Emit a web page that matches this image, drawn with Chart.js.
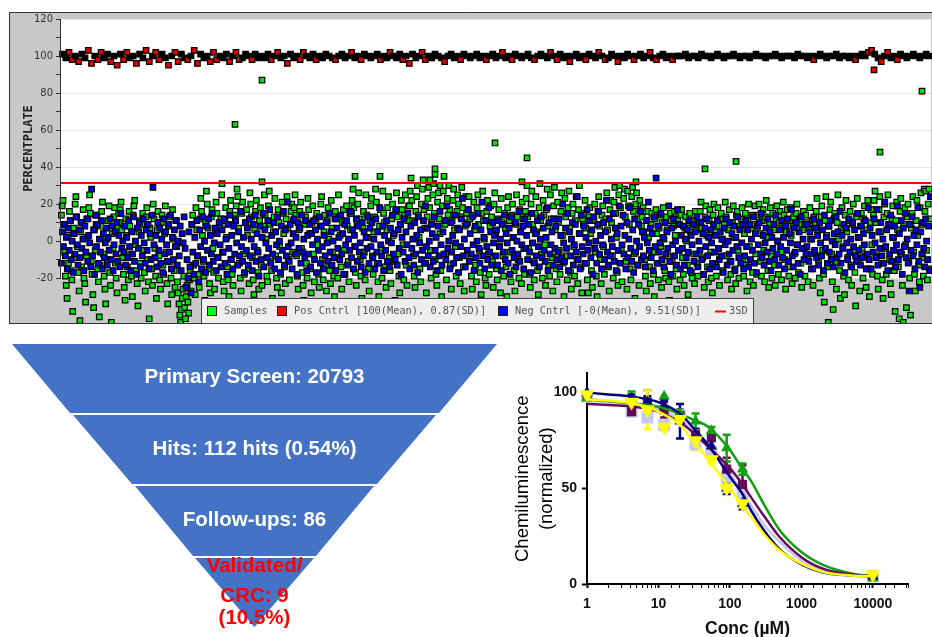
<!DOCTYPE html>
<html>
<head>
<meta charset="utf-8">
<title>HTS funnel</title>
<script src="https://cdn.jsdelivr.net/npm/chart.js@4/dist/chart.umd.min.js"></script>
<style>
  body { margin: 0; background: #fff; }
  canvas { position: absolute; }
  #plateChart { left: 9px; top: 12px; }
  #funnelChart { left: 0; top: 340px; }
  #doseChart { left: 500px; top: 360px; }
</style>
</head>
<body>
<canvas id="plateChart" width="923" height="312"></canvas>
<canvas id="funnelChart" width="500" height="297"></canvas>
<canvas id="doseChart" width="432" height="277"></canvas>
<script>
const TOTAL_WELLS = 20793
const sampleValues = [
14,19,22,9,-6,-19,-24,-31,3,-12,16,11,-16,-21,-38,7,-9,20,24,13,-3,-17,-27,-43,5,-14,10,17,-20,-23,-33,-8,
2,12,18,25,15,-11,-18,-29,-36,6,-5,9,14,-15,-22,-41,-13,8,16,21,-7,-19,-26,-34,1,-10,11,19,-17,-24,-44,4,-4,13,18,-12,-20,-28,7,15,
10,17,21,6,-9,-18,-25,-32,12,3,-14,-21,16,8,-7,-19,-30,14,19,22,-2,-16,-23,-35,5,11,-12,-20,9,15,-5,-17,
-27,13,18,-10,-22,-42,7,2,-15,-24,20,12,-4,-19,-31,6,16,-8,-21,-26,10,14,-13,-18,4,19,-6,-23,-34,8,13,-11,-20,-29,17,1,-16,-25,11,-3,
-22,-28,-34,-40,-44,-37,-31,-26,-19,-36,-42,-30,-24,-33,-39,-21,-16,-27,9,14,-13,-20,-29,18,6,-8,-18,-25,12,23,16,3,
-11,-19,-32,10,27,20,7,-15,-23,-28,13,17,-4,-17,-26,5,21,15,-9,-20,-35,8,12,25,-6,-22,-27,11,18,2,-14,-21,-30,16,22,-10,-18,-24,9,14,
12,19,28,24,7,-12,-20,-27,15,21,-7,-18,-33,10,17,3,-15,-23,26,20,13,-9,-21,-29,6,16,22,-5,-17,-26,11,18,
-13,-24,-35,8,25,14,1,-19,-22,19,27,9,-11,-16,-31,5,13,23,-8,-20,-25,17,10,-3,-18,-28,21,15,4,-14,-23,12,24,7,-10,-21,-34,16,20,-6,
11,18,25,14,-8,-19,-26,6,16,21,-4,-17,-24,-32,9,13,-12,-20,23,17,4,-15,-28,10,19,-7,-22,-34,12,15,-2,-18,
-25,8,20,24,-10,-21,5,14,-13,-27,11,18,1,-16,-23,22,7,-6,-19,-30,16,12,-9,-20,25,13,3,-14,-26,10,17,-5,-18,-33,19,8,-11,-22,15,6,
15,22,28,18,-3,-17,-24,9,20,26,12,-10,-19,-31,7,16,-6,-21,25,14,2,-15,-27,11,19,23,-8,-18,5,13,28,21,
-12,-22,-30,8,17,-4,-20,27,15,10,-14,-25,6,18,24,-9,-16,-23,12,20,3,-11,-32,16,26,13,-7,-19,-28,9,22,17,-2,-21,14,25,-13,-24,11,19,
19,27,34,22,11,-8,-19,-25,16,24,30,14,2,-15,-22,20,28,33,17,7,-12,-28,13,23,29,18,-5,-20,10,25,31,15,
-10,-18,-24,21,26,12,4,-16,-30,19,27,35,9,-7,-21,23,14,30,17,-13,-26,11,22,28,6,-3,-19,16,25,20,-9,-23,13,29,18,-14,-27,8,24,15,
10,17,24,12,-9,-19,-26,14,21,6,-13,-22,18,25,9,-5,-17,-29,15,27,11,1,-20,-24,16,22,-7,-18,8,19,13,-11,
-25,20,26,4,-15,-21,12,17,-3,-28,23,10,-8,-19,15,7,-14,-30,18,24,11,-6,-22,14,20,2,-16,-27,9,25,13,-10,-20,17,5,-23,21,12,-4,-18,
16,23,30,13,-4,-18,-25,20,27,9,-11,-21,15,24,5,-16,-29,18,31,11,-7,-20,22,14,-2,-24,17,28,8,-13,-19,25,
12,-9,-27,19,29,6,-15,-22,21,10,-5,-18,16,26,3,-12,-30,23,13,-8,-21,18,27,7,-17,-26,15,20,-3,-19,11,24,-10,-23,17,30,4,-14,-28,12,
9,15,22,7,-12,-21,-28,13,18,4,-16,-25,-34,11,20,-6,-19,-30,16,24,8,-10,-23,14,19,-3,-18,-36,12,26,6,-14,
-27,17,22,10,-8,-20,21,29,15,2,-17,-24,25,30,18,-5,-22,-33,23,28,13,-11,-26,27,19,9,-15,-21,24,29,16,-7,-31,20,26,12,-13,-24,22,17,
8,13,18,5,-10,-19,-27,11,16,2,-14,-23,9,15,-6,-18,-30,12,17,4,-12,-21,7,14,-3,-25,10,18,1,-16,-20,13,
6,-8,-22,-32,15,11,-11,-19,8,16,3,-15,-26,12,9,-5,-21,14,17,-9,-18,-24,7,13,0,-13,-29,10,15,5,-17,-20,11,-7,-23,16,6,-12,-19,9,
10,16,21,7,-9,-18,-25,13,19,3,-14,-22,11,17,-6,-20,-28,14,20,5,-12,-19,8,18,-4,-24,12,15,1,-16,-35,9,
21,13,-8,-21,6,17,-11,-18,-26,10,19,2,-15,-23,14,16,-5,-20,-34,8,12,18,-10,-19,4,15,-13,-27,11,20,-3,-22,7,14,-17,-24,9,19,-7,-18,
8,14,20,4,-11,-19,11,17,-5,-22,13,22,2,-16,-25,9,18,-8,-20,15,6,-13,-24,12,19,0,-18,10,16,-6,-21,7,
21,14,-10,-26,5,17,-14,-19,11,18,3,-23,8,13,-7,-20,15,20,-2,-17,9,12,-12,-25,6,16,-4,-19,14,10,-9,-22,7,18,1,-15,11,-24,13,-6,
9,16,23,6,-10,-20,-28,13,19,-5,-18,-33,11,24,3,-14,-44,8,17,21,-7,-22,-37,12,15,-12,-26,10,25,1,-16,-31,
7,18,-3,-19,-29,14,22,5,-9,-21,11,16,-13,-24,9,20,-6,-17,-35,13,23,2,-11,-27,8,15,-4,-20,12,19,-8,-25,6,22,-15,-30,10,17,-2,-18,
14,22,27,10,-8,-19,-26,17,24,5,-12,-21,-31,13,20,-4,-18,15,25,8,-10,-23,-29,12,19,2,-16,-38,11,21,6,-14,
-42,16,23,-7,-24,-44,9,18,-2,-36,13,20,-11,-20,-40,7,15,24,-6,-18,-27,11,22,3,-13,-22,18,26,9,-9,-19,28,16,27,-5,-21,20,28,12,-15
]
const negValues = [
-12,5,-3,9,-8,2,-15,7,-5,11,-10,0,-17,4,-7,13,-2,-13,6,-9,10,-4,1,-16,8,-6,12,-11,3,-1,-14,28,
-8,6,-18,14,-3,9,-12,1,-6,11,-15,4,-9,-1,7,-13,2,-5,12,-10,8,-16,-2,5,-7,10,-11,3,-14,15,-4,0,
-6,8,-13,2,-9,11,-3,-16,5,-7,13,-11,0,-18,7,-4,10,-14,3,-8,12,-1,-12,6,-5,9,-15,4,-10,14,29,-2,
-9,3,-14,10,-5,7,-12,1,-17,12,-7,5,-2,-11,9,-6,14,-15,2,-10,6,-3,11,-13,0,-8,8,-16,4,-1,13,-4,
-25,-10,-20,5,-14,-28,9,-6,-18,2,-12,11,-8,-22,6,-3,-15,13,-10,0,-17,8,-5,12,-13,3,-7,15,-11,-1,
7,-16,4,-9,10,-2,-14,6,-6,12,-12,1,-18,9,-4,14,-10,3,-15,8,-7,11,-1,-13,5,-8,16,-3,-11,2,-17,10,
-5,7,-13,12,-8,1,-16,9,-3,14,-11,4,-6,-19,8,-10,2,15,-14,6,-1,-9,11,-4,17,-12,3,-7,10,-15,5,-2,
13,-10,0,-17,8,-5,16,-13,6,-8,21,-3,-11,9,-1,-15,4,12,-7,2,-18,10,-4,7,-12,14,-6,1,-9,11,-16,3,
-7,9,-14,4,-2,11,-10,6,-17,1,-5,13,-12,8,-3,-15,3,-8,10,-1,-11,15,-6,5,-13,0,-9,12,-16,7,-4,2,
-10,14,-7,4,-18,9,-2,11,-13,1,-5,16,-9,6,-15,3,-3,12,-11,8,-6,-1,-14,10,-8,5,-17,2,-4,13,-12,7,
-3,10,-9,1,-15,12,-6,5,-12,18,-2,-8,8,-16,3,-5,11,-11,0,-14,7,-1,14,-7,4,-10,17,-13,6,-4,9,-18,
2,-6,12,-11,5,-2,15,-9,-15,8,-4,1,-13,10,-7,3,-17,13,-1,6,-10,-5,11,-12,19,-3,7,-8,0,-14,9,4,
-11,13,-5,2,-16,8,-8,16,-2,-13,5,-7,11,-10,19,-4,0,-15,10,-6,3,-12,14,-1,-9,7,-17,6,-3,12,23,-8,
1,-14,9,-5,17,-11,4,-7,13,-2,-16,8,-9,0,15,-4,-12,6,21,-8,2,-15,11,-3,-10,18,-6,5,-13,10,-1,3,
-8,6,-13,11,-3,1,-16,9,-6,14,-10,4,-1,-12,7,-18,13,-5,2,-9,10,-14,0,-7,16,-11,5,-2,8,-15,12,-4,
3,-10,9,-6,-17,15,-1,6,-12,4,-8,11,-3,-14,1,13,-9,7,-5,-11,2,18,-16,10,-7,-2,5,-13,12,-4,8,-10,
-6,12,-14,3,-9,20,-1,-11,7,-4,15,-16,5,-8,1,10,-13,-2,9,-6,24,-10,4,-15,14,-3,-7,8,-12,2,17,-5,
-1,11,-9,6,-18,13,-4,0,-12,9,16,-7,3,-15,-2,10,-10,5,22,-6,-13,12,-8,1,-3,15,-11,7,-16,4,-5,19,
-12,8,-2,14,-7,3,-15,10,-9,1,18,-4,-11,6,-17,12,-6,0,-13,9,-3,16,-10,5,-8,2,-14,11,-1,21,-5,7,
-9,4,-16,13,-3,34,-12,8,-6,-1,15,-10,2,-14,10,-7,5,-4,19,-11,-18,7,-2,12,-8,0,-13,17,-5,9,-15,3,
-4,8,-13,1,-9,6,-6,11,-16,3,-2,9,-11,5,-7,13,-14,0,-5,10,-10,4,-18,7,-3,12,-8,2,-15,6,-1,-12,
9,-6,3,-14,11,-4,-10,5,-8,1,-17,7,-2,12,-13,0,-7,10,-11,4,-5,8,-16,2,-3,13,-9,6,-12,-1,9,-15,
-8,11,-3,6,-14,9,-10,1,-5,13,-12,4,-17,8,-2,10,-7,15,-9,3,-13,-1,7,-6,12,-11,5,-16,2,-4,9,-10,
14,-7,0,-13,6,-3,11,-9,2,-15,8,-5,12,-11,4,-1,17,-8,-14,7,-6,10,-2,-12,5,-18,13,-4,1,-10,9,-7,
-3,9,-11,5,-7,1,-15,12,-5,7,-9,3,-13,10,-1,-8,6,-16,14,-4,2,-12,8,-6,11,-10,0,-14,4,-2,13,-9,
5,-7,16,-12,3,-4,9,-17,7,-1,-10,12,-6,1,-14,10,-3,6,-8,-11,15,-5,2,-13,8,-9,4,-2,11,-15,-7,18,
-10,7,-15,3,-6,12,-1,-9,17,-13,5,-4,10,-8,1,-12,21,-3,6,-16,9,-7,14,-11,2,-5,8,-14,-2,19,-10,4,
-6,11,-18,7,-3,15,-9,1,-12,-27,9,-5,13,-8,3,-15,6,-2,18,-11,-25,5,-7,10,-4,-14,12,0,-10,8,-16,24
]
const posValues = [
101,99,102,98,100,97,101,99,103,96,100,98,102,99,101,97,100,95,101,98,102,99,100,96,101,99,103,97,100,102,98,101,
99,95,100,102,97,101,99,98,100,103,96,101,99,100,97,102,98,100,99,101,97,100,102,98,99,101,100,98,101,99,100,99,
101,98,100,102,99,100,96,101,99,100,98,102,100,99,101,98,100,99,101,100,99,98,100,101,99,100,102,99,100,98,101,100,
99,100,101,98,100,99,102,100,99,101,98,100,96,101,99,100,102,98,100,99,101,100,99,97,100,101,99,100,98,101,100,99,
100,101,99,100,98,100,101,99,100,102,99,100,98,101,100,99,100,101,99,98,100,101,100,99,102,100,98,101,99,100,97,100,
101,99,100,98,101,100,99,102,100,98,99,101,100,97,100,99,101,100,98,100,101,99,100,102,99,98,100,101,99,100,98,100,
100,100,101,99,100,100,99,101,100,100,99,100,101,100,99,100,100,101,100,99,100,100,99,100,101,100,100,99,100,100,101,100,
99,100,100,100,99,101,100,100,99,100,98,100,101,100,99,100,100,101,99,100,100,99,100,98,100,101,100,102,103,101,99,97,
100,102,99,100,98,101,100,99,100,101,100,99,100,101,100
]
// wells that stand clear of the cloud, as [well, value]
const sampleHitWells = [4159,4804,10373,11137,15392,16133,19574,20578,8939,8939,7027,7624,11018,13743,3848,4804,8819,9058]
const sampleHitValues = [63,87,53,45,39,43,48,81,39,36,35,35,32,32,31,32,33,30]
const posOutlierWells = [19431]
const posOutlierValues = [92.5]
const cutoffValue = 31.4
const plateTicks = [120,100,80,60,40,20,0,-20]
const legendLabels = ['Samples','Pos Cntrl [100(Mean), 0.87(SD)]','Neg Cntrl [-0(Mean), 9.51(SD)]','3SD']

// funnel tiers
const tierTops = [344,415,486,558]
const tierBottoms = [413,484,556,627]
const tierTopHalfWidths = [242.5,181.5,119.5,59.5]
const tierBottomHalfWidths = [184.5,122.5,61.5,0]
const funnelLabels = ['Primary Screen: 20793','Hits: 112 hits (0.54%)','Follow-ups: 86','Validated/','CRC: 9','(10.5%)']
const funnelLabelY = [377,449,520,566,596,618]

// dose response
const doses = [1,4.2,7,12,20,33,55,90,150,10000]
const navyValues = [100,97,95,93,85,77,72,50,42,4]
const navyErrors = [0,2,3,3,9,4,4,3,3,0]
const greenValues = [97,97,94,98,89,85,80,71,60,3]
const greenErrors = [0,3.5,2,0,2,4,2,7,3,0]
const maroonValues = [98,90,95,91,88,78,76.5,60,52,4]
const maroonErrors = [0,2,6,4,3,3,2,6,10,0]
const lavenderValues = [98,90,87,83,88,73,69,56,47,4]
const yellowValues = [99,95,91,82,86,75,65,50,42,5]
const yellowErrors = [0,2,10,2,2,5,2,2,2,0]
const curveDoses = [1,2,4,7,10,20,30,50,100,150,200,300,500,1000,2000,5000,10000]
const navyCurve = [100,99,98,96.5,95,89,82,72.5,56,47,38,28,18,10.3,6,4.5,4]
const greenCurve = [96.5,95.5,94.5,93.5,92.6,88.8,86,82,70,60,53.5,41.5,28,16.7,10,5.5,4]
const maroonCurve = [94,93.5,92.8,91.5,90,84.5,79.4,71.6,60.5,52,45,35.5,24.4,14,8,5,4]
const lavenderCurve = [95.7,95,94,92.8,91.4,86,80,71.6,58,47.6,40.7,31,22,12.4,7.2,4.8,4]
const yellowCurve = [96.5,95.8,94.5,92.5,90,83,75,64.8,50,40.7,34.7,26,17.5,10.6,6.3,4.5,4]

Chart.defaults.animation = false
Chart.defaults.responsive = false
Chart.defaults.plugins.legend.display = false
Chart.defaults.plugins.tooltip.enabled = false

const MONO = '"DejaVu Sans Mono"'
const ARIAL = '"Liberation Sans"'

function spread(values) {
    return values.map((y, i) => ({x: (i + 0.5) * TOTAL_WELLS / values.length, y}))
}
function pairs(xs, ys) {
    return xs.map((x, i) => ({x, y: ys[i]}))
}

// grey panel, white plot band, frame, axis title and the overlaid legend
const platePanel = {
    id: 'platePanel',
    beforeDraw(chart) {
        const {ctx, chartArea: a, scales: {y}} = chart
        ctx.save()
        ctx.fillStyle = '#c8c8c8'
        ctx.fillRect(0, 0, chart.width, chart.height)
        ctx.fillStyle = '#fff'
        ctx.fillRect(a.left, y.getPixelForValue(120), a.width, y.getPixelForValue(-20) - y.getPixelForValue(120))
        ctx.restore()
    },
    afterDraw(chart) {
        const {ctx, chartArea: a, scales: {y}} = chart
        ctx.save()
        ctx.strokeStyle = '#333'
        ctx.lineWidth = 1
        ctx.beginPath()
        ctx.moveTo(a.left - 0.5, y.getPixelForValue(120))
        ctx.lineTo(a.left - 0.5, y.getPixelForValue(-20))
        ctx.stroke()
        ctx.beginPath()
        ctx.moveTo(0.5, chart.height)
        ctx.lineTo(0.5, 0.5)
        ctx.lineTo(chart.width, 0.5)
        ctx.moveTo(0.5, chart.height - 0.5)
        ctx.lineTo(chart.width, chart.height - 0.5)
        ctx.stroke()

        ctx.save()
        ctx.translate(20, (y.getPixelForValue(120) + y.getPixelForValue(-20)) / 2)
        ctx.rotate(-Math.PI / 2)
        ctx.textAlign = 'center'
        ctx.textBaseline = 'middle'
        ctx.font = 'bold 12px ' + MONO
        ctx.fillStyle = '#222'
        ctx.fillText('PERCENTPLATE', 0, 0)
        ctx.restore()

        // legend box
        ctx.fillStyle = '#eeeeee'
        ctx.fillRect(192.5, 286.5, 552, 25)
        ctx.strokeStyle = '#444'
        ctx.strokeRect(192.5, 286.5, 552, 25)
        const swatchX = [198, 268, 489]
        const textX = [215, 285, 506, 720]
        const colors = ['#00ff00', '#ff0000', '#0000ff']
        ctx.font = '10.3px ' + MONO
        ctx.textBaseline = 'middle'
        ctx.textAlign = 'left'
        legendLabels.forEach((label, i) => {
            if (i < 3) {
                ctx.fillStyle = colors[i]
                ctx.fillRect(swatchX[i] + 0.5, 294.5, 9, 9)
                ctx.strokeStyle = '#222'
                ctx.strokeRect(swatchX[i] + 0.5, 294.5, 9, 9)
            }
            ctx.fillStyle = '#555'
            ctx.fillText(label, textX[i], 299.5)
        })
        ctx.strokeStyle = '#ff0000'
        ctx.lineWidth = 2
        ctx.beginPath()
        ctx.moveTo(706, 299.5)
        ctx.lineTo(717, 299.5)
        ctx.stroke()
        ctx.restore()
    }
}

const dotOptions = {
    showLine: false,
    pointStyle: 'rect',
    pointRadius: 3.9,
    pointBorderWidth: 1.2,
    pointBorderColor: '#000',
    clip: false
}

new Chart(document.getElementById('plateChart'), {
    type: 'scatter',
    plugins: [platePanel],
    data: {
        datasets: [
            {
                label: '3SD',
                data: [{x: 0, y: cutoffValue}, {x: TOTAL_WELLS, y: cutoffValue}],
                showLine: true,
                borderColor: '#ff0000',
                borderWidth: 2,
                pointRadius: 0
            },
            {...dotOptions, label: 'Neg Cntrl', data: spread(negValues), pointBackgroundColor: '#0000e6'},
            {
                ...dotOptions,
                label: 'Pos Cntrl',
                data: spread(posValues).concat(pairs(posOutlierWells, posOutlierValues)),
                // the overlapped core of the control band reads as solid black
                pointBackgroundColor: c => Math.abs(c.raw.y - 100) <= 1 ? '#000' : '#e00000'
            },
            {...dotOptions, label: 'Samples', data: spread(sampleValues).concat(pairs(sampleHitWells, sampleHitValues)), pointBackgroundColor: '#00e000'}
        ]
    },
    options: {
        layout: {autoPadding: false, padding: {top: 7, right: 1, bottom: 1, left: 0}},
        scales: {
            x: {type: 'linear', display: false, min: 0, max: TOTAL_WELLS},
            y: {
                min: -44.3,
                max: 120,
                afterFit: s => { s.width = 52; s.paddingTop = 0; s.paddingBottom = 0 },
                afterBuildTicks: s => { s.ticks = s.ticks.filter(t => t.value >= -20) },
                border: {display: false},
                grid: {
                    tickLength: 5,
                    tickColor: '#333',
                    color: c => plateTicks.includes(c.tick && c.tick.value) ? '#e6e6e6' : 'rgba(0,0,0,0)'
                },
                ticks: {
                    stepSize: 10,
                    padding: 3,
                    color: '#333',
                    font: {family: '"DejaVu Sans"', size: 10},
                    callback: v => plateTicks.includes(v) ? String(v) : ''
                }
            }
        }
    }
})

// funnel: each tier is a closed polygon on hidden axes
const funnelText = {
    id: 'funnelText',
    afterDatasetsDraw(chart) {
        const {ctx, scales: {x, y}} = chart
        ctx.save()
        ctx.font = 'bold 20.5px ' + ARIAL
        ctx.textAlign = 'center'
        ctx.textBaseline = 'middle'
        funnelLabels.forEach((label, i) => {
            ctx.fillStyle = i < 3 ? '#fff' : '#ff0000'
            ctx.fillText(label, x.getPixelForValue(0), y.getPixelForValue(funnelLabelY[i]))
        })
        ctx.restore()
    }
}

new Chart(document.getElementById('funnelChart'), {
    type: 'scatter',
    plugins: [funnelText],
    data: {
        datasets: tierTops.map((top, i) => ({
            label: funnelLabels[i],
            data: [
                {x: -tierTopHalfWidths[i], y: top},
                {x: tierTopHalfWidths[i], y: top},
                {x: tierBottomHalfWidths[i], y: tierBottoms[i]},
                {x: -tierBottomHalfWidths[i], y: tierBottoms[i]},
                {x: -tierTopHalfWidths[i], y: top}
            ],
            showLine: true,
            fill: 'shape',
            backgroundColor: '#4472c4',
            borderWidth: 0,
            pointRadius: 0
        }))
    },
    options: {
        layout: {padding: 0},
        scales: {
            x: {type: 'linear', display: false, min: -254.5, max: 245.5},
            y: {display: false, reverse: true, min: 340, max: 637}
        }
    }
})

// error bars sit under the markers, last dataset painted first
const errorBars = {
    id: 'errorBars',
    beforeDatasetsDraw(chart) {
        const {ctx, scales: {x, y}} = chart
        ctx.save()
        chart.data.datasets.slice().reverse().forEach(ds => {
            if (!ds.errors) return
            ctx.strokeStyle = ds.borderColor
            ctx.lineWidth = 2.5
            ds.data.forEach((p, i) => {
                const e = ds.errors[i]
                if (!e) return
                const px = x.getPixelForValue(p.x)
                const hi = y.getPixelForValue(p.y + e)
                const lo = y.getPixelForValue(p.y - e)
                ctx.beginPath()
                ctx.moveTo(px, hi)
                ctx.lineTo(px, lo)
                ctx.moveTo(px - 4, hi)
                ctx.lineTo(px + 4, hi)
                ctx.moveTo(px - 4, lo)
                ctx.lineTo(px + 4, lo)
                ctx.stroke()
            })
        })
        ctx.restore()
    }
}

function curve(label, values, color) {
    return {
        label,
        data: pairs(curveDoses, values),
        showLine: true,
        borderColor: color,
        borderWidth: 2.5,
        cubicInterpolationMode: 'monotone',
        pointRadius: 0,
        clip: false
    }
}
function markers(label, values, errors, color, pointStyle, radius, rotation) {
    return {
        label,
        data: pairs(doses, values),
        errors,
        showLine: false,
        borderColor: color,
        pointStyle,
        pointRadius: radius,
        pointRotation: rotation || 0,
        pointBackgroundColor: color,
        pointBorderColor: color,
        pointBorderWidth: 0,
        clip: false
    }
}

new Chart(document.getElementById('doseChart'), {
    type: 'scatter',
    plugins: [errorBars],
    data: {
        datasets: [
            curve('yellow fit', yellowCurve, '#ffff00'),
            markers('yellow', yellowValues, yellowErrors, '#ffff00', 'triangle', 8.5, 180),
            curve('navy fit', navyCurve, '#000080'),
            curve('maroon fit', maroonCurve, '#660a5a'),
            curve('green fit', greenCurve, '#10a010'),
            markers('navy', navyValues, navyErrors, '#000080', 'triangle', 6.5),
            markers('green', greenValues, greenErrors, '#10a010', 'triangle', 6.5),
            markers('maroon', maroonValues, maroonErrors, '#660a5a', 'rect', 6.5),
            curve('lavender fit', lavenderCurve, '#c4c4f0'),
            markers('lavender', lavenderValues, null, '#c8c8f4', 'rect', 8.5)
        ]
    },
    options: {
        layout: {autoPadding: false, padding: {top: 11, right: 24, bottom: 0, left: 0}},
        scales: {
            x: {
                type: 'logarithmic',
                min: 1,
                max: 31000,
                afterFit: s => { s.height = 53 },
                border: {color: '#000', width: 2},
                grid: {drawOnChartArea: false, tickLength: 4, tickColor: '#000', tickWidth: c => Number.isInteger(Math.log10(c.tick.value)) ? 2 : 1},
                title: {display: true, text: 'Conc (µM)', color: '#111', font: {family: ARIAL, size: 17.5, weight: 'bold'}, padding: {top: 0, bottom: -3}},
                ticks: {
                    autoSkip: false,
                    maxRotation: 0,
                    padding: 8,
                    color: '#111',
                    font: {family: ARIAL, size: 14, weight: 'bold'},
                    callback: v => Number.isInteger(Math.log10(v)) ? String(v) : ''
                }
            },
            y: {
                min: 0,
                max: 110,
                afterFit: s => { s.width = 87 },
                border: {color: '#000', width: 2},
                grid: {drawOnChartArea: false, tickLength: 5, tickColor: '#000', tickWidth: 2},
                title: {display: true, text: ['Chemiluminescence', '(normalized)'], color: '#000', font: {family: ARIAL, size: 18.5, lineHeight: 1.3}, padding: {top: 11, bottom: 0}},
                ticks: {
                    stepSize: 50,
                    includeBounds: false,
                    padding: 5,
                    color: '#111',
                    font: {family: ARIAL, size: 14, weight: 'bold'}
                }
            }
        }
    }
})
</script>
</body>
</html>
